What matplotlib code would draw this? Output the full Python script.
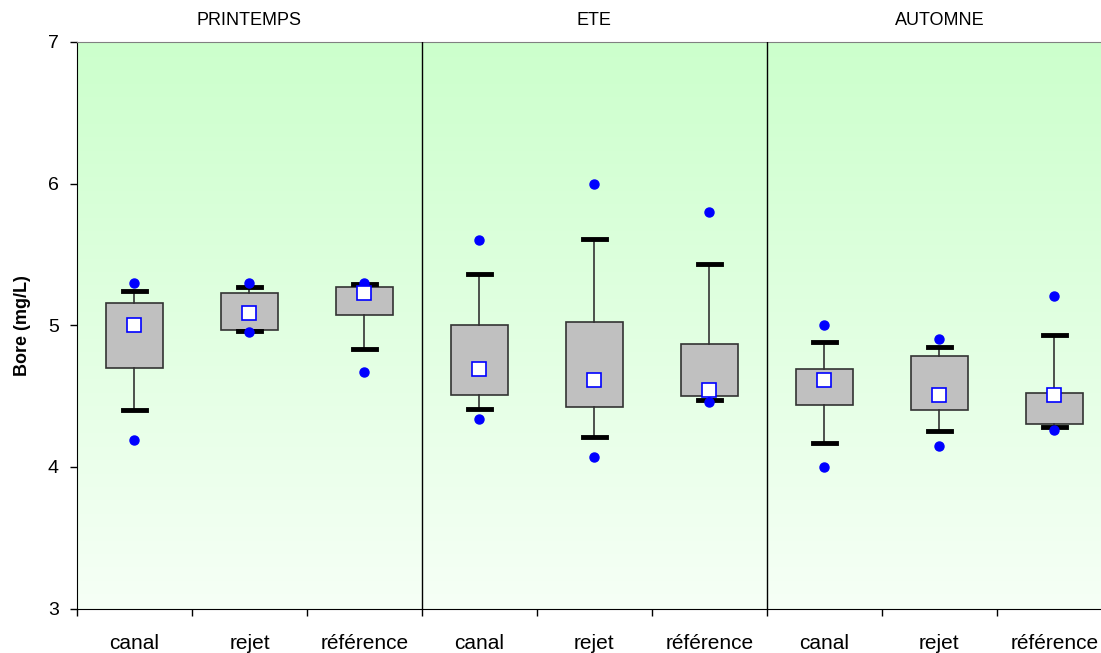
import numpy as np
import matplotlib
matplotlib.use("Agg")
import matplotlib.pyplot as plt
from matplotlib.colors import LinearSegmentedColormap

plt.rcParams['font.family'] = ['Liberation Sans', 'DejaVu Sans']

seasons = ["PRINTEMPS", "ETE", "AUTOMNE"]
sites = ["canal", "rejet", "référence"]

# boron concentration per season x site (mg/L)
q1 = [4.70, 4.97, 5.07, 4.51, 4.42, 4.50, 4.44, 4.40, 4.30]
q3 = [5.155, 5.23, 5.27, 5.00, 5.025, 4.87, 4.69, 4.78, 4.52]
whis_lo = [4.40, 4.96, 4.83, 4.41, 4.21, 4.47, 4.17, 4.25, 4.28]
whis_hi = [5.24, 5.27, 5.29, 5.36, 5.61, 5.43, 4.88, 4.85, 4.93]
means = [5.00, 5.09, 5.23, 4.69, 4.61, 4.54, 4.61, 4.51, 4.51]
low_pts = [4.19, 4.95, 4.67, 4.34, 4.07, 4.46, 4.00, 4.15, 4.26]
high_pts = [5.30, 5.30, 5.30, 5.60, 6.00, 5.80, 5.00, 4.90, 5.21]

fig = plt.figure(figsize=(11.01, 6.53), dpi=100)
ax = fig.add_axes([0.0699, 0.0681, 0.94, 0.8676])

n = len(q1)
ax.set_xlim(-0.5, n - 0.5)
ax.set_ylim(3, 7)

# green-to-white gradient behind the boxes
cmap = LinearSegmentedColormap.from_list("bg", ["#f6fff6", "#ccffcc"])
grad = np.linspace(0, 1, 256).reshape(-1, 1)
ax.imshow(grad, cmap=cmap, origin="lower", aspect="auto",
          extent=[-0.5, n - 0.5, 3, 7], zorder=0)

stats = []
for i in range(n):
    stats.append(dict(med=q1[i], q1=q1[i], q3=q3[i], whislo=whis_lo[i],
                      whishi=whis_hi[i], mean=means[i],
                      fliers=[low_pts[i], high_pts[i]]))

ax.bxp(stats, positions=range(n), widths=0.5, showmeans=True,
       patch_artist=True, manage_ticks=False,
       boxprops=dict(facecolor="#c0c0c0", edgecolor="#333333", linewidth=1.2),
       whiskerprops=dict(color="#333333", linewidth=1.2),
       capprops=dict(color="black", linewidth=3.5),
       capwidths=0.2,
       medianprops=dict(linewidth=0),
       meanprops=dict(marker="s", markerfacecolor="white",
                      markeredgecolor="blue", markersize=10,
                      markeredgewidth=1.2),
       flierprops=dict(marker="o", markerfacecolor="blue",
                       markeredgecolor="blue", markersize=6.5))

for sep in (2.5, 5.5):
    ax.axvline(sep, color="black", linewidth=1, zorder=3)

for k, s in enumerate(seasons):
    ax.text(3 * k + 1, 7.09, s, ha="center", va="bottom", fontsize=13)

ax.set_yticks([3, 4, 5, 6, 7])
ax.tick_params(axis="y", labelsize=14, direction="out", length=5, width=1,
               pad=8)
ax.set_xticks(np.arange(-0.5, n, 1.0))
ax.set_xticklabels([])
ax.set_xticks(range(n), minor=True)
ax.set_xticklabels(sites * 3, minor=True, fontsize=15)
ax.tick_params(axis="x", which="major", direction="out", length=5, width=1)
ax.tick_params(axis="x", which="minor", length=0, pad=18)

ax.set_ylabel("Bore (mg/L)", fontsize=13, fontweight="bold", labelpad=12)

ax.spines["top"].set_color("#808080")
ax.spines["right"].set_visible(False)

fig.savefig("out.png", dpi=100)
